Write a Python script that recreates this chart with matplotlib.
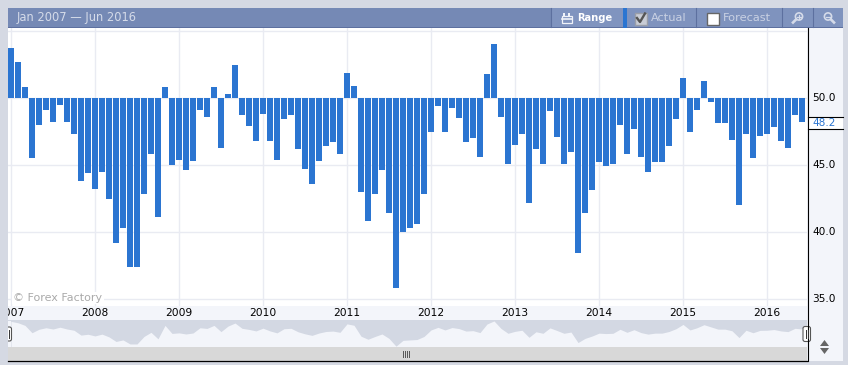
import matplotlib
matplotlib.use("Agg")
import matplotlib.pyplot as plt
from matplotlib.patches import Rectangle, FancyBboxPatch, Polygon, Circle
from matplotlib.lines import Line2D

# ---- data ----
base_value = 50.0
latest_value = 48.2
start_year = 2007
values_2007 = [53.7, 52.7, 50.8, 45.5, 48.0, 49.1, 48.2, 49.5, 48.2, 47.3, 43.8, 44.4]
values_2008 = [43.2, 44.5, 42.5, 39.2, 40.3, 37.4, 37.4, 42.8, 45.8, 41.1, 50.8, 45.0]
values_2009 = [45.4, 44.6, 45.3, 49.1, 48.6, 50.8, 46.3, 50.3, 52.5, 48.7, 47.9, 46.8]
values_2010 = [48.8, 46.8, 45.4, 48.4, 48.7, 46.2, 44.7, 43.6, 45.3, 46.4, 46.7, 45.8]
values_2011 = [51.9, 50.9, 43.0, 40.8, 42.8, 44.6, 41.4, 35.8, 40.0, 40.3, 40.6, 42.8]
values_2012 = [47.5, 49.4, 47.5, 49.25, 48.5, 46.7, 47.0, 45.6, 51.8, 54.0, 48.6, 45.1]
values_2013 = [46.5, 47.3, 42.2, 46.2, 45.1, 49.0, 47.1, 45.1, 46.0, 38.4, 41.4, 43.1]
values_2014 = [45.2, 44.9, 45.1, 48.0, 45.8, 47.7, 45.6, 44.5, 45.2, 45.2, 46.4, 48.4]
values_2015 = [51.5, 47.5, 49.1, 51.3, 49.7, 48.1, 48.1, 46.9, 42.0, 47.3, 45.5, 47.2]
values_2016 = [47.3, 47.8, 46.8, 46.3, 48.7, 48.2]
year_labels = ["2007", "2008", "2009", "2010", "2011", "2012", "2013", "2014", "2015", "2016"]
y_ticks = [35, 40, 45, 50, 55]
y_tick_labels = ["35.0", "40.0", "45.0", "50.0"]

values = (values_2007 + values_2008 + values_2009 + values_2010 + values_2011
          + values_2012 + values_2013 + values_2014 + values_2015 + values_2016)
months = list(range(len(values)))
year_pos = [12 * i for i in range(len(year_labels))]

# ---- palette ----
PAGE = "#d5d9e3"
HEADER = "#7589b5"
HEADER_LINE = "#5d709f"
PANEL = "#f3f5fa"
GRID = "#e9ebf2"
BAR = "#2b75d1"
NAV_BG = "#d3d8e3"
SCROLL = "#d8d8d8"
HEAD_TXT = "#d5dbe9"
BTN_TXT = "#c9d1e3"

W, H = 848, 365
plt.rcParams["font.family"] = "DejaVu Sans"
fig = plt.figure(figsize=(W / 100, H / 100), dpi=100, facecolor=PAGE)


def px_axes(x0, y0, x1, y1, z):
    return fig.add_axes([x0 / W, 1 - y1 / H, (x1 - x0) / W, (y1 - y0) / H], zorder=z)


XLIM = (-3 / 7, (807 - 11) / 7)

# background chrome
bg = fig.add_axes([0, 0, 1, 1], zorder=0)
bg.set_xlim(0, W)
bg.set_ylim(H, 0)
bg.axis("off")
bg.add_patch(Rectangle((8, 28), 835, 333, fc=PANEL, ec="none"))

# main chart
ax = px_axes(8, 28, 807, 306, 2)
ax.set_facecolor("white")
ax.set_xlim(*XLIM)
ax.set_ylim(base_value - 208 / 13.4, base_value + 70 / 13.4)
ax.set_axisbelow(True)
ax.grid(True, color=GRID, lw=1.0)
ax.set_xticks(year_pos)
ax.set_yticks(y_ticks)
ax.tick_params(length=0, labelbottom=False, labelleft=False)
for s in ax.spines.values():
    s.set_visible(False)
heights = [v - base_value for v in values]
ax.bar(months, heights, bottom=base_value, width=6 / 7, color=BAR, lw=0, antialiased=False)
ax.text(0.0065, 0.0285, "© Forex Factory", transform=ax.transAxes, fontsize=8,
        color="#aaaaaa", va="center", ha="left",
        bbox=dict(fc="white", ec="none", pad=1.0), zorder=4)

# x label band
band = px_axes(8, 306, 807, 320, 2)
band.set_facecolor(PANEL)
band.set_xlim(*XLIM)
band.set_ylim(0, 1)
band.axis("off")
band.add_patch(Rectangle((XLIM[0], 0), XLIM[1] - XLIM[0], 1, fc=PANEL, ec="none"))
for p, lab in zip(year_pos, year_labels):
    band.text(p, 0.5, lab, ha="center", va="center", fontsize=7.7, color="black", clip_on=True)

# navigator
nav = px_axes(8, 320, 807, 347, 2)
nav.set_facecolor(NAV_BG)
nav.set_xlim(*XLIM)
nav.set_ylim(35.2, 54.7)
nav.set_xticks([])
nav.set_yticks([])
for s in nav.spines.values():
    s.set_visible(False)
nav.fill_between(months, values, 30, color=PANEL, lw=0)
nav.fill_between([XLIM[0], 0], 30, values[0], color=PANEL, lw=0)
nav.fill_between([months[-1], XLIM[1]], 30, values[-1], color=PANEL, lw=0)

# overlay chrome
ov = fig.add_axes([0, 0, 1, 1], zorder=5)
ov.set_xlim(0, W)
ov.set_ylim(H, 0)
ov.axis("off")
ov.patch.set_alpha(0)

# header
ov.add_patch(Rectangle((8, 8), 835, 19.5, fc=HEADER, ec="none"))
ov.add_patch(Rectangle((551, 8), 72, 19.5, fc="#8094bf", ec="none"))
ov.add_patch(Rectangle((627, 8), 216, 19.5, fc="#7f93be", ec="none"))
ov.add_patch(Rectangle((8, 27), 835, 1, fc=HEADER_LINE, ec="none"))
for sx in [550, 695, 781, 812]:
    ov.add_line(Line2D([sx + .5, sx + .5], [8, 27], color=HEADER_LINE, lw=0.8))
ov.add_patch(Rectangle((623, 8), 4, 19.5, fc=BAR, ec="none"))
ov.text(17, 18, "Jan 2007 — Jun 2016", fontsize=8.3, color=HEAD_TXT, va="center", ha="left")
ov.text(577, 18, "Range", fontsize=7.9, color="white", va="center", ha="left",
        path_effects=None, fontweight="semibold", fontstretch="condensed")
ov.text(651, 18, "Actual", fontsize=8.2, color=BTN_TXT, va="center", ha="left")
ov.text(723, 18, "Forecast", fontsize=8.2, color=BTN_TXT, va="center", ha="left")
# calendar icon
ICON = "#f0f3f9"
ov.add_patch(Rectangle((561.5, 15.5), 10, 7, fc="none", ec=ICON, lw=0.9))
ov.add_line(Line2D([561.5, 571.5], [18.5, 18.5], color=ICON, lw=1.2))
ov.add_patch(Rectangle((563, 13), 2, 3, fc=ICON, ec="none"))
ov.add_patch(Rectangle((568, 13), 2, 3, fc=ICON, ec="none"))
# check boxes
ov.add_patch(Rectangle((634.5, 12.5), 12, 12, fc="#c9cdd6", ec="#9a9ea8", lw=1))
ov.add_line(Line2D([637, 640, 645], [18, 22, 13.5], color="#555555", lw=1.7))
ov.add_patch(Rectangle((706.5, 12.5), 12, 12, fc="white", ec="#666666", lw=1))
# zoom icons
ZC = "#d5dbe9"
ov.add_patch(Circle((799, 16.5), 3.6, fc="none", ec=ZC, lw=1.2))
ov.add_line(Line2D([796, 793], [19.5, 22.5], color=ZC, lw=1.9))
ov.add_line(Line2D([797, 801], [16.5, 16.5], color=ZC, lw=0.9))
ov.add_line(Line2D([799, 799], [14.5, 18.5], color=ZC, lw=0.9))
ov.add_patch(Circle((828, 16.5), 3.6, fc="none", ec=ZC, lw=1.2))
ov.add_line(Line2D([831, 834], [19.5, 22.5], color=ZC, lw=1.9))
ov.add_line(Line2D([826, 830], [16.5, 16.5], color=ZC, lw=0.9))

# right axis
ov.add_line(Line2D([807.5, 807.5], [28, 361], color="black", lw=0.8))
ov.add_patch(Rectangle((808, 116.5), 35, 12.5, fc="white", ec="none"))
ov.add_line(Line2D([807.5, 843], [116.5, 116.5], color="black", lw=0.8))
ov.add_line(Line2D([807.5, 843], [129, 129], color="black", lw=0.8))
for t in y_tick_labels:
    v = float(t)
    ypx = 98 + (base_value - v) * 13.4
    ov.text(812, ypx, t, fontsize=7.6, color="black", va="center", ha="left")
ov.text(812, 122.8, f"{latest_value:.1f}", fontsize=7.6, color=BAR, va="center", ha="left")

# scrollbar
ov.add_patch(Rectangle((8, 347), 799, 14, fc=SCROLL, ec="none"))
ov.add_line(Line2D([8, 807], [361, 361], color="black", lw=0.9))
for gx in [402.5, 404.5, 406.5, 408.5]:
    ov.add_line(Line2D([gx, gx], [351, 357], color="#555555", lw=0.7))

# range handles
lh = FancyBboxPatch((5, 327), 6.5, 14, boxstyle="round,pad=0,rounding_size=2", fc="white", ec="#555555", lw=0.8)
rh = FancyBboxPatch((803, 326.5), 7.5, 15, boxstyle="round,pad=0,rounding_size=2", fc="white", ec="#555555", lw=0.8)
ov.add_patch(lh)
lh.set_clip_path(Rectangle((8, 320), 20, 27, transform=ov.transData))
ov.add_patch(rh)
for gx in [806, 808]:
    ov.add_line(Line2D([gx, gx], [330, 338], color="#333333", lw=0.7))
for gx in [8.7]:
    ov.add_line(Line2D([gx, gx], [330, 338], color="#333333", lw=0.7))

# up/down arrows
ov.add_patch(Polygon([(820, 346), (829, 346), (824.5, 340)], fc="#666666", ec="none"))
ov.add_patch(Polygon([(820, 348), (829, 348), (824.5, 354)], fc="#666666", ec="none"))

fig.savefig("out.png", dpi=100, facecolor=PAGE)
